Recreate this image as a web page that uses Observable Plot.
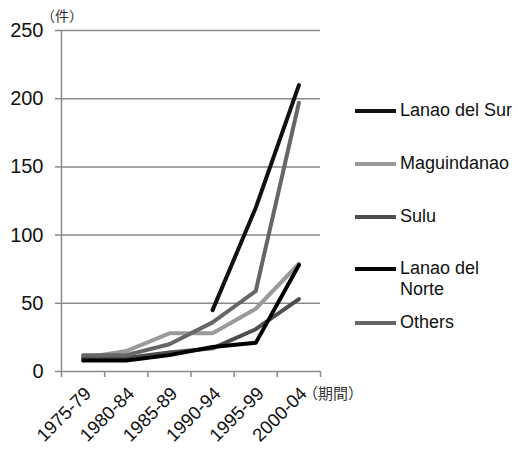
<!DOCTYPE html>
<html>
<head>
<meta charset="utf-8">
<script src="https://cdn.jsdelivr.net/npm/d3@7"></script>
<script src="https://cdn.jsdelivr.net/npm/@observablehq/plot@0.6"></script>
<style>
  body { margin: 0; background: #fff; }
  #wrap { position: relative; width: 518px; height: 450px; font-family: "Liberation Sans", Arial, sans-serif; }
  .legend { position: absolute; left: 355px; font-size: 18px; color: #111; line-height: 21px; }
  .legend .sw { position: absolute; left: 0; width: 41px; height: 4px; }
  .legend .lb { position: absolute; left: 45px; white-space: nowrap; }
  .unit { position: absolute; font-family: "Noto Sans CJK JP", sans-serif; font-size: 14px; color: #333; }
</style>
</head>
<body>
<div id="wrap"></div>
<script>
const periods = ["1975-79", "1980-84", "1985-89", "1990-94", "1995-99", "2000-04"];
const seriesNames = ["Lanao del Sur", "Maguindanao", "Sulu", "Lanao del Norte", "Others"];
const lanaoDelSur   = [null, null, null, 45, 120, 210];
const maguindanao   = [10, 15, 28, 28, 46, 79];
const sulu          = [10, 10, 14, 17, 31, 53];
const lanaoDelNorte = [8, 8, 12, 18, 21, 78];
const others        = [12, 12, 20, 36, 59, 197];
const yTicks = [0, 50, 100, 150, 200, 250];
const seriesColors = ["#111111", "#9a9a9a", "#4d4d4d", "#000000", "#666666"];

const seriesValues = [lanaoDelSur, maguindanao, sulu, lanaoDelNorte, others];
const rows = [];
seriesNames.forEach((name, s) => {
  seriesValues[s].forEach((v, i) => rows.push({series: name, i, value: v}));
});
const boundaries = d3.range(-0.5, periods.length, 1);

const chart = Plot.plot({
  width: 518,
  height: 450,
  marginLeft: 61,
  marginRight: 198,
  marginTop: 30,
  marginBottom: 79,
  style: {fontFamily: "Liberation Sans, Arial, sans-serif", background: "transparent"},
  x: {type: "linear", domain: [-0.5, periods.length - 0.5], axis: null},
  y: {domain: [0, 250], axis: null},
  color: {domain: seriesNames, range: seriesColors},
  marks: [
    Plot.ruleY(yTicks.filter(d => d > 0), {stroke: "#8a8a8a", strokeWidth: 1.5, strokeOpacity: 1}),
    Plot.axisY({ticks: yTicks, tickSize: 6, tickPadding: 12, fontSize: 20, stroke: "#8a8a8a", strokeWidth: 1.5, color: "#111", label: null}),
    Plot.axisX({ticks: boundaries, tickSize: 6, tickFormat: () => "", stroke: "#8a8a8a", strokeWidth: 1.5, label: null}),
    Plot.ruleX([-0.5], {stroke: "#8a8a8a", strokeWidth: 1.5}),
    Plot.ruleY([0], {stroke: "#8a8a8a", strokeWidth: 1.5}),
    Plot.line(rows, {x: "i", y: "value", z: "series", stroke: "series", strokeWidth: 4, curve: "linear"}),
    Plot.text(periods, {x: (d, i) => i, y: 0, text: d => d, rotate: -45, textAnchor: "end", lineAnchor: "middle", dx: 5, dy: 19, fontSize: 18.5, fill: "#111"})
  ]
});
const wrap = document.getElementById("wrap");
wrap.appendChild(chart);

const legendYs = [111, 164, 217, 269, 323];
seriesNames.forEach((name, k) => {
  const item = document.createElement("div");
  item.className = "legend";
  item.style.top = (legendYs[k] - 2) + "px";
  const sw = document.createElement("div");
  sw.className = "sw";
  sw.style.background = seriesColors[k];
  sw.style.top = "0px";
  const lb = document.createElement("div");
  lb.className = "lb";
  lb.style.top = "-9px";
  lb.innerHTML = name === "Lanao del Norte" ? "Lanao del<br>Norte" : name;
  item.appendChild(sw);
  item.appendChild(lb);
  wrap.appendChild(item);
});
const u1 = document.createElement("div");
u1.className = "unit"; u1.textContent = "（件）"; u1.style.left = "41px"; u1.style.top = "5px";
wrap.appendChild(u1);
const u2 = document.createElement("div");
u2.className = "unit"; u2.textContent = "（期間）"; u2.style.left = "303px"; u2.style.top = "382px";
u2.style.fontSize = "15px";
wrap.appendChild(u2);
</script>
</body>
</html>
